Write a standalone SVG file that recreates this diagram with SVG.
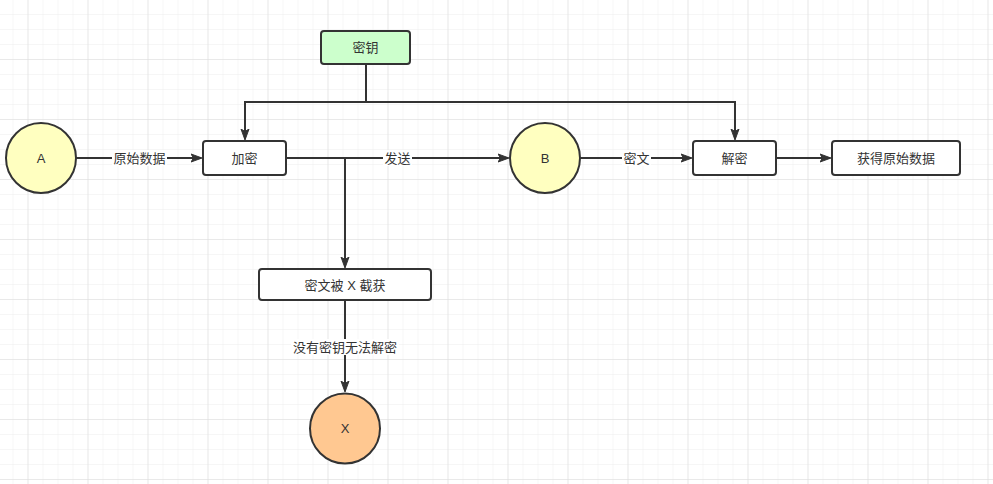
<svg xmlns="http://www.w3.org/2000/svg" width="993" height="484" viewBox="0 0 993 484">
<defs>
<pattern id="minor" width="15" height="15" patternUnits="userSpaceOnUse" x="-1.5" y="0">
<path d="M15 0V15M0 15H15" fill="none" stroke="#ededed" stroke-width="1"/>
</pattern>
<pattern id="major" width="60" height="60" patternUnits="userSpaceOnUse" x="-31.5" y="0">
<path d="M60 0V60M0 60H60" fill="none" stroke="#dcdcdc" stroke-width="1"/>
</pattern>
<marker id="arrow" viewBox="0 0 11 10" refX="10" refY="5" markerWidth="11" markerHeight="10" markerUnits="userSpaceOnUse" orient="auto">
<path d="M0 1 L11 5 L0 9 L2.5 5 Z" fill="#333" stroke="#333" stroke-width="1"/>
</marker>
<style>
.node{stroke:#333;stroke-width:2}
.rect{fill:#fff}
.lbl{font-family:"Liberation Sans","Noto Sans CJK SC",sans-serif;font-size:13px;fill:#333;text-anchor:middle;dominant-baseline:central}
.edge{fill:none;stroke:#333;stroke-width:2}
.lblbg{fill:#fff}
</style>
</defs>
<rect width="993" height="484" fill="#fff"/>
<rect width="993" height="484" fill="url(#minor)"/>
<rect width="993" height="484" fill="url(#major)"/>

<g id="connectors">
<path class="edge" d="M366 64V102H245V139" marker-end="url(#arrow)"/>
<path class="edge" d="M366 102H735V139" marker-end="url(#arrow)"/>
<path class="edge" d="M76 158H201" marker-end="url(#arrow)"/>
<path class="edge" d="M286 158H508" marker-end="url(#arrow)"/>
<path class="edge" d="M345 158V267" marker-end="url(#arrow)"/>
<path class="edge" d="M580 158H691" marker-end="url(#arrow)"/>
<path class="edge" d="M776 158H830" marker-end="url(#arrow)"/>
<path class="edge" d="M345 300V391" marker-end="url(#arrow)"/>
<rect class="lblbg" x="112" y="150" width="55" height="16"/>
<text class="lbl" x="139.5" y="158">原始数据</text>
<rect class="lblbg" x="383" y="150" width="29" height="16"/>
<text class="lbl" x="397.5" y="158">发送</text>
<rect class="lblbg" x="622" y="150" width="29" height="16"/>
<text class="lbl" x="636.5" y="158">密文</text>
<rect class="lblbg" x="291" y="339" width="108" height="16"/>
<text class="lbl" x="345" y="347">没有密钥无法解密</text>
</g>

<g id="key">
<rect class="node" x="321" y="31" width="89" height="33" rx="3" fill="#ccffcc"/>
<text class="lbl" x="365.5" y="47.5">密钥</text>
</g>
<g id="A">
<circle class="node" cx="41" cy="158" r="35" fill="#ffffc0"/>
<text class="lbl" x="41" y="158">A</text>
</g>
<g id="encrypt">
<rect class="node rect" x="203" y="141" width="83" height="34" rx="3"/>
<text class="lbl" x="244.5" y="158">加密</text>
</g>
<g id="B">
<circle class="node" cx="545" cy="158" r="35" fill="#ffffc0"/>
<text class="lbl" x="545" y="158">B</text>
</g>
<g id="decrypt">
<rect class="node rect" x="693" y="141" width="83" height="34" rx="3"/>
<text class="lbl" x="734.5" y="158">解密</text>
</g>
<g id="result">
<rect class="node rect" x="832" y="141" width="128" height="34" rx="3"/>
<text class="lbl" x="896" y="158">获得原始数据</text>
</g>
<g id="intercepted">
<rect class="node rect" x="259" y="269" width="172" height="31" rx="3"/>
<text class="lbl" x="345" y="285">密文被 X 截获</text>
</g>
<g id="X">
<circle class="node" cx="345" cy="428.5" r="35" fill="#ffc891"/>
<text class="lbl" x="345" y="428.5">X</text>
</g>
</svg>
